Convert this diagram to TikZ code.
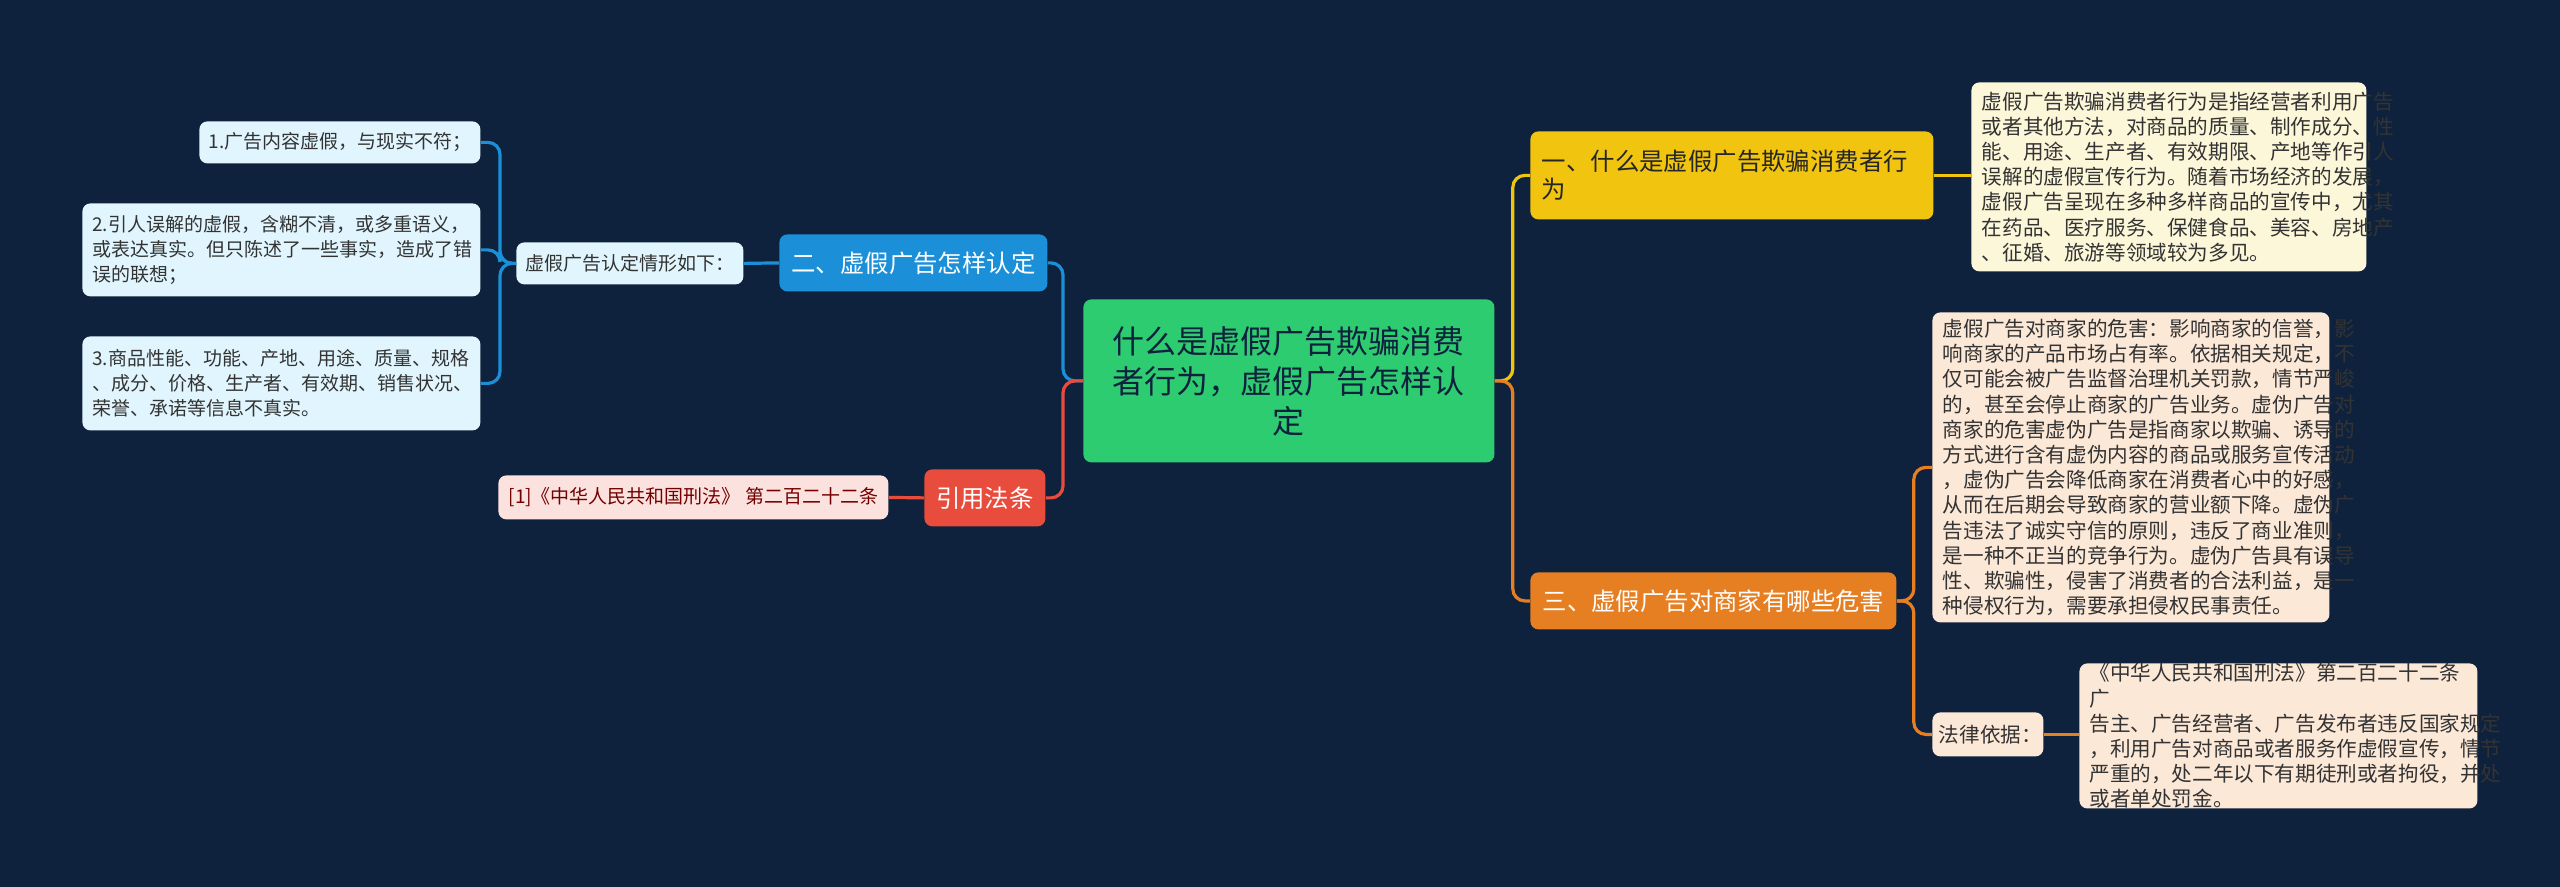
\documentclass[tikz,border=0pt]{standalone}
\usepackage{fontspec}
\setmainfont{Noto Sans CJK SC}
\begin{document}
\begin{tikzpicture}[x=0.5pt,y=-0.5pt,
 box/.style={anchor=north west,rounded corners=4pt,inner sep=0pt,align=left,font=\fontsize{10.3}{12.6}\selectfont,text=black!80},
 lft/.style={box,fill=cyan!12!white,font=\fontsize{9.5}{12.6}\selectfont},
 br/.style={anchor=north west,rounded corners=4pt,inner sep=0pt,font=\fontsize{12.2}{14}\selectfont,align=left},
 ln/.style={line width=1.6pt,rounded corners=6pt}]
\definecolor{bg}{RGB}{14,34,61}
\definecolor{cgreen}{RGB}{46,204,113}
\definecolor{cyel}{RGB}{241,196,15}
\definecolor{cora}{RGB}{230,126,34}
\definecolor{cblue}{RGB}{27,143,216}
\definecolor{cred}{RGB}{231,76,60}
\definecolor{lcream}{RGB}{253,247,218}
\definecolor{lpeach}{RGB}{252,232,215}
\definecolor{lblue}{RGB}{214,238,248}
\definecolor{lpink}{RGB}{252,226,223}
\fill[bg] (0,0) rectangle (2560,887);
\useasboundingbox (0,0) rectangle (2560,887);
% center
\node[br,fill=cgreen,minimum width=205.5pt,minimum height=81.5pt,text width=190pt,align=center,font=\fontsize{16}{20}\selectfont,text=bg] (c) at (1083,299) {什么是虚假广告欺骗消费\\者行为，虚假广告怎样认\\定};
% right branches
\node[br,fill=cyel,minimum width=201.5pt,minimum height=44pt,text width=190pt,text=black!85] (b1) at (1530,131) {一、什么是虚假广告欺骗消费者行\\为};
\node[br,fill=cora,minimum width=183pt,minimum height=28.5pt,text=white,align=center] (b3) at (1530,572) {三、虚假广告对商家有哪些危害};
\node[box,fill=lcream,minimum width=197.5pt,minimum height=94.5pt,text width=187pt] (l1) at (1971,82) {虚假广告欺骗消费者行为是指经营者利用广告\\或者其他方法，对商品的质量、制作成分、性\\能、用途、生产者、有效期限、产地等作引人\\误解的虚假宣传行为。随着市场经济的发展，\\虚假广告呈现在多种多样商品的宣传中，尤其\\在药品、医疗服务、保健食品、美容、房地产\\、征婚、旅游等领域较为多见。};
\node[box,fill=lpeach,minimum width=198.5pt,minimum height=155pt,text width=188pt] (l3a) at (1932,312) {虚假广告对商家的危害：影响商家的信誉，影\\响商家的产品市场占有率。依据相关规定，不\\仅可能会被广告监督治理机关罚款，情节严峻\\的，甚至会停止商家的广告业务。虚伪广告对\\商家的危害虚伪广告是指商家以欺骗、诱导的\\方式进行含有虚伪内容的商品或服务宣传活动\\，虚伪广告会降低商家在消费者心中的好感，\\从而在后期会导致商家的营业额下降。虚伪广\\告违法了诚实守信的原则，违反了商业准则，\\是一种不正当的竞争行为。虚伪广告具有误导\\性、欺骗性，侵害了消费者的合法利益，是一\\种侵权行为，需要承担侵权民事责任。};
\node[box,fill=lpeach,minimum width=55.5pt,minimum height=22pt,text width=49pt] (law) at (1932,712) {法律依据：};
\node[box,fill=lpeach,minimum width=199pt,minimum height=71pt,text width=189pt] (l3b) at (2079,663) {《中华人民共和国刑法》第二百二十二条 广\\告主、广告经营者、广告发布者违反国家规定\\，利用广告对商品或者服务作虚假宣传，情节\\严重的，处二年以下有期徒刑或者拘役，并处\\或者单处罚金。};
% left branches
\node[br,fill=cblue,minimum width=134pt,minimum height=28.5pt,text=white,align=center] (b2) at (779,234) {二、虚假广告怎样认定};
\node[br,fill=cred,minimum width=60.5pt,minimum height=28.5pt,text=white,align=center] (b4) at (924,469) {引用法条};
\node[lft,minimum width=113.5pt,minimum height=21pt,align=center] (k) at (516,242) {虚假广告认定情形如下：};
\node[lft,minimum width=140.5pt,minimum height=21pt,align=center] (a1) at (199,121) {1.广告内容虚假，与现实不符；};
\node[lft,minimum width=199pt,minimum height=46.5pt,text width=189pt] (a2) at (82,203) {2.引人误解的虚假，含糊不清，或多重语义，\\或表达真实。但只陈述了一些事实，造成了错\\误的联想；};
\node[lft,minimum width=199pt,minimum height=47pt,text width=189pt] (a3) at (82,336) {3.商品性能、功能、产地、用途、质量、规格\\、成分、价格、生产者、有效期、销售状况、\\荣誉、承诺等信息不真实。};
\node[lft,fill=lpink,text=red!45!black,minimum width=195pt,minimum height=22pt,align=center] (r1) at (498,475) {[1]《中华人民共和国刑法》 第二百二十二条};
% connectors
\draw[ln,cyel] (c.east) -- ++(18,0) |- (b1.west);
\draw[ln,cora] (c.east) -- ++(18,0) |- (b3.west);
\draw[ln,cyel] (b1.east) -- (l1.west |- b1.east);
\draw[ln,cora] (b3.east) -- ++(17,0) |- (l3a.west);
\draw[ln,cora] (b3.east) -- ++(17,0) |- (law.west);
\draw[ln,cora] (law.east) -- (l3b.west |- law.east);
\draw[ln,cblue] (c.west) -- ++(-20,0) |- (b2.east);
\draw[ln,cred] (c.west) -- ++(-20,0) |- (b4.east);
\draw[ln,cblue] (b2.west) -- (k.east);
\draw[ln,cblue] (k.west) -- ++(-16,0) |- (a1.east);
\draw[ln,cblue] (k.west) -- ++(-16,0) |- (a2.east);
\draw[ln,cblue] (k.west) -- ++(-16,0) |- (a3.east);
\draw[ln,cred] (b4.west) -- (r1.east);
\end{tikzpicture}
\end{document}
